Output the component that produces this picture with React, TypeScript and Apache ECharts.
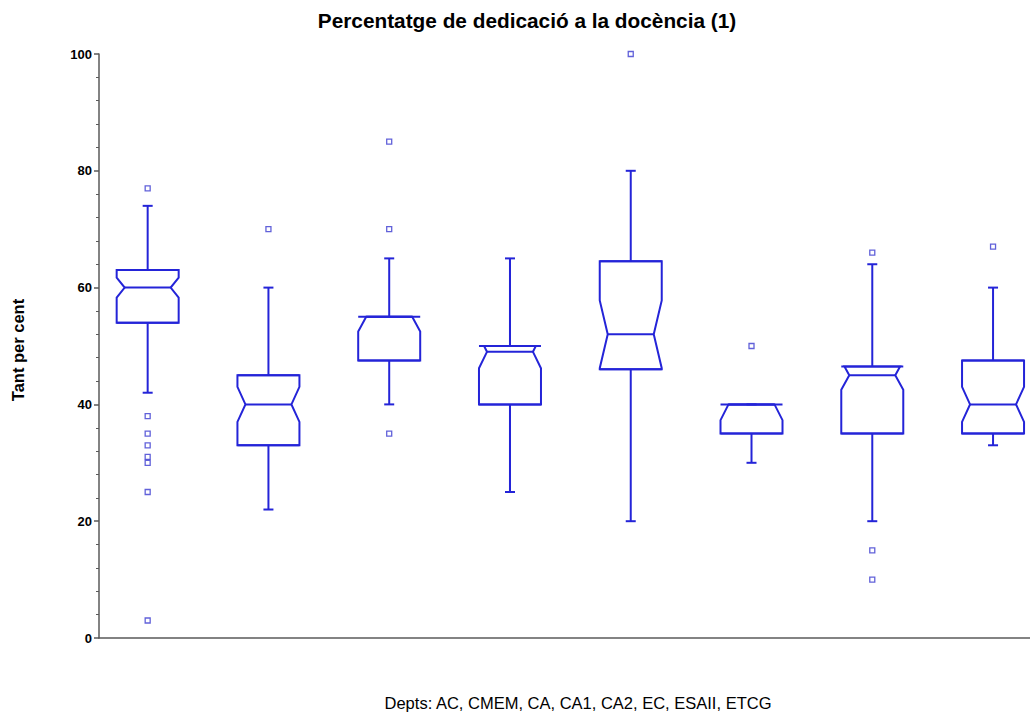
import React, { useEffect, useRef } from "react";
import * as echarts from "echarts";

// ---- data ----
const categories = ["AC", "CMEM", "CA", "CA1", "CA2", "EC", "ESAII", "ETCG"];
const whiskerLow = [42, 22, 40, 25, 20, 30, 20, 33];
const q1 = [54, 33, 47.5, 40, 46, 35, 35, 35];
const median = [60, 40, 55, 49, 52, 40, 45, 40];
const q3 = [63, 45, 55, 50, 64.5, 40, 46.5, 47.5];
const whiskerHigh = [74, 60, 65, 65, 80, 40, 64, 60];
const notchHalf = [1.7, 3, 2.5, 2.8, 5.8, 2.7, 2.5, 3];
const outliers: number[][] = [
  [77, 38, 35, 33, 31, 30, 25, 3],
  [70],
  [85, 70, 35],
  [],
  [100],
  [50],
  [66, 15, 10],
  [67],
];
const yTicks = [0, 20, 40, 60, 80, 100];

const titleText = "Percentatge de dedicació a la docència (1)";
const xTitle = "Depts: " + categories.join(", ");
const yTitle = "Tant per cent";

const BLUE = "#2424d8";
const AXIS = "#5a5a5a";
const FONT = "'Liberation Sans', Arial, sans-serif";

export default function App() {
  const ref = useRef<HTMLDivElement>(null);

  useEffect(() => {
    if (!ref.current) return;
    const chart = echarts.init(ref.current, undefined, { renderer: "svg" });

    const boxData = categories.map((_, i) => [
      i + 1,
      whiskerLow[i],
      q1[i],
      median[i],
      q3[i],
      whiskerHigh[i],
      notchHalf[i],
    ]);
    const outlierData: number[][] = [];
    outliers.forEach((arr, i) => arr.forEach((v) => outlierData.push([i + 1, v])));

    const HW = 31; // half box width px
    const IND = 8; // notch indent px
    const CAP = 5; // whisker cap half width px

    const renderItem = (params: any, api: any) => {
      const x = api.value(0);
      const lo = api.value(1);
      const b1 = api.value(2);
      const med = api.value(3);
      const b3 = api.value(4);
      const hi = api.value(5);
      const c = api.value(6);
      const cx = api.coord([x, med])[0];
      const Y = (v: number) => api.coord([x, v])[1];
      const w = (v: number) => {
        const d = Math.abs(v - med);
        if (d >= c) return HW;
        return HW - IND * (1 - d / c);
      };
      const vals: number[] = [b3];
      if (med + c < b3) vals.push(med + c);
      vals.push(med);
      if (med - c > b1) vals.push(med - c);
      vals.push(b1);
      const pts: number[][] = [];
      vals.forEach((v) => pts.push([cx - w(v), Y(v)]));
      for (let k = vals.length - 1; k >= 0; k--) pts.push([cx + w(vals[k]), Y(vals[k])]);
      const ls = { stroke: BLUE, lineWidth: 2, fill: null };
      const line = (x1: number, y1: number, x2: number, y2: number) => ({
        type: "line",
        shape: { x1, y1, x2, y2 },
        style: ls,
      });
      return {
        type: "group",
        children: [
          { type: "polygon", shape: { points: pts }, style: { stroke: BLUE, lineWidth: 2, fill: "none" } },
          line(cx - HW, Y(b3), cx + HW, Y(b3)),
          line(cx - HW, Y(b1), cx + HW, Y(b1)),
          line(cx - (HW - IND), Y(med), cx + (HW - IND), Y(med)),
          line(cx, Y(b3), cx, Y(hi)),
          line(cx, Y(b1), cx, Y(lo)),
          line(cx - CAP, Y(hi), cx + CAP, Y(hi)),
          line(cx - CAP, Y(lo), cx + CAP, Y(lo)),
        ],
      };
    };

    chart.setOption({
      animation: false,
      backgroundColor: "#ffffff",
      grid: { left: 99, top: 54, right: 0, bottom: 79, containLabel: false },
      xAxis: {
        type: "value",
        min: 0.597,
        max: 8.306,
        axisLine: { show: true, onZero: false, lineStyle: { color: AXIS, width: 1.5 } },
        axisTick: { show: false },
        axisLabel: { show: false },
        splitLine: { show: false },
      },
      yAxis: {
        type: "value",
        min: yTicks[0],
        max: yTicks[yTicks.length - 1],
        interval: 20,
        axisLine: { show: true, lineStyle: { color: AXIS, width: 1.5 } },
        axisTick: { show: true, length: 5, lineStyle: { color: AXIS, width: 1.5 } },
        minorTick: { show: true, splitNumber: 5, length: 3, lineStyle: { color: AXIS, width: 1 } },
        axisLabel: {
          margin: 7,
          color: "#000",
          fontWeight: "bold",
          fontSize: 13,
          fontFamily: FONT,
        },
        splitLine: { show: false },
      },
      series: [
        {
          type: "custom",
          renderItem,
          data: boxData,
          encode: { x: 0, y: [1, 2, 3, 4, 5] },
          clip: false,
        },
        {
          type: "scatter",
          data: outlierData,
          symbol: "rect",
          symbolSize: 5,
          itemStyle: { color: "#ffffff", borderColor: "#3a3ad0", borderWidth: 1.3 },
        },
      ],
      graphic: [
        {
          type: "text",
          x: 527,
          y: 20,
          style: {
            text: titleText,
            fill: "#000",
            font: `bold 20.8px ${FONT}`,
            textAlign: "center",
            textVerticalAlign: "middle",
          },
        },
        {
          type: "text",
          x: 578,
          y: 703,
          style: {
            text: xTitle,
            fill: "#000",
            font: `16.5px ${FONT}`,
            textAlign: "center",
            textVerticalAlign: "middle",
          },
        },
        {
          type: "text",
          x: 18,
          y: 350,
          rotation: Math.PI / 2,
          style: {
            text: yTitle,
            fill: "#000",
            font: `bold 16.5px ${FONT}`,
            textAlign: "center",
            textVerticalAlign: "middle",
          },
        },
      ],
    });

    return () => chart.dispose();
  }, []);

  return (
    <div
      ref={ref}
      style={{ position: "absolute", left: 0, top: 0, width: 1030, height: 717 }}
    />
  );
}
